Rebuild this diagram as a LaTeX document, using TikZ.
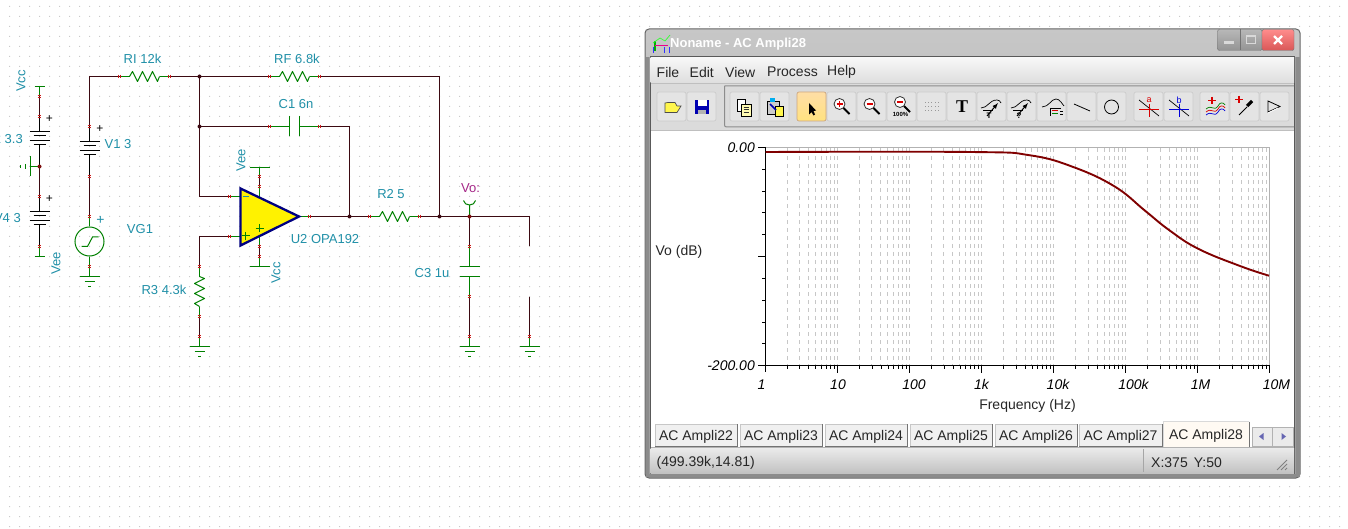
\documentclass[tikz,border=0pt]{standalone}
\usepackage{fontspec}
\setmainfont{Liberation Sans}
\newfontfamily\iconserif{Liberation Serif}
\usetikzlibrary{calc}
\definecolor{wirered}{HTML}{3C0A12}
\definecolor{leadgreen}{HTML}{008000}
\definecolor{pinred}{HTML}{D01818}
\definecolor{labelteal}{HTML}{2090A8}
\definecolor{griddot}{HTML}{CACACA}
\definecolor{curvered}{HTML}{800000}
\definecolor{btnface}{HTML}{E4E4E4}
\definecolor{btnline}{HTML}{CCCCCC}
\definecolor{opamp}{HTML}{000080}
\tikzset{
  wire/.style={draw=wirered,line width=1.1pt},
  lead/.style={draw=leadgreen,line width=1pt},
  blacklead/.style={draw=black,line width=1pt},
  pinmark/.style={draw=pinred,line width=.8pt},
  lbl/.style={text=labelteal,inner sep=0pt,font=\fontsize{13}{14}\selectfont},
  uitext/.style={text=black!85,inner sep=0pt,font=\fontsize{14}{16}\selectfont},
  axtext/.style={text=black,inner sep=0pt,font=\fontsize{14}{16}\selectfont\itshape},
  btn/.style={fill=btnface,draw=btnline,line width=.7pt,rounded corners=2pt},
  hpin/.pic={\draw[pinmark] (-1,-1.8)--(-1,1.8) (1,-1.8)--(1,1.8);},
  vpin/.pic={\draw[pinmark] (-1.8,-1)--(1.8,-1) (-1.8,1)--(1.8,1);},
  gnd/.pic={\draw[lead] (-10,0)--(10,0) (-5,5)--(5,5) (-1.5,10)--(1.5,10);},
  zigzag/.pic={\draw[lead,line join=round] (-15,0)--(-12,-5)--(-7,5)--(-2,-5)--(3,5)--(8,-5)--(13,5)--(15,0);},
  battery/.pic={\draw[blacklead] (-10,0)--(10,0) (-6,4.5)--(6,4.5) (-10,9)--(10,9) (-6,13)--(6,13);},
  jdot/.pic={\fill[wirered] (0,0) circle (2);},
  loupe/.pic={
    \draw[black!80,line width=.8pt,fill=white] (0,0) circle (5.5);
    \draw[black,line width=1.8pt] (4,4)--(10,10);
  }
}
\begin{document}
\begin{tikzpicture}[x=1pt,y=-1pt]
\useasboundingbox (0,0) rectangle (1348,529);
\fill[white] (0,0) rectangle (1348,529);
% sheet grid
\fill[griddot] \foreach \i in {0,...,133}{\foreach \j in {0,...,52}{(9+10*\i,6+10*\j) rectangle +(1,1)}};

% schematic
\begin{scope}[xshift=.5pt,yshift=-.5pt]
\foreach \n/\x/\y in {tl/89/76,pRIa/119/76,pRIb/169/76,jtop/199/76,pRFa/269/76,pRFb/319/76,tr/439/76,
  jfb/199/126,pCIa/269/126,pCIb/319/126,cr/349/126,jcap/349/216,jrf/439/216,
  inm/199/196,pinm/229/196,inp/199/236,pinp/229/236,
  pRTa/199/266,pRTb/199/316,pgT/199/336,gT/199/346,
  tip/300/216,pout/309/216,pRSa/369/216,pRSb/419/216,jvo/469/216,ocr/529/216,oend/529/246,
  ostart/529/296,pgO/529/336,gO/529/346,
  pCTa/469/246,pCTb/469/296,pgC/469/336,gC/469/346,plA/469/266,plB/469/276,
  pVa/89/126,pVb/89/176,pGa/89/216,pGb/89/266,gV/89/276,
  barcc/39/86,pBa/39/96,pBb/39/116,jmid/39/166,pDa/39/196,pDb/39/246,baree/39/256,
  barop/259/167,pUa/259/176,pUb/259/186,eU/259/197,barcv/259/266,pLb/259/256,pLa/259/246,eL/259/236}
  \coordinate (\n) at (\x,\y);

% wires
\draw[wire] (pVa)--(tl)--(pRIa) (pRIb)--(jtop)--(pRFa) (pRFb)--(tr)--(jrf);
\draw[wire] (jtop)--(jfb)--(inm)--(pinm) (jfb)--(pCIa) (pCIb)--(cr)--(jcap);
\draw[wire] (pout)--(pRSa) (pRSb)--(jvo)--(ocr)--(oend) (ostart)--(pgO);
\draw[wire] (pinp)--(inp)--(pRTa) (pRTb)--(pgT);
\draw[wire] (jvo)--(pCTa) (pCTb)--(pgC) (pVb)--(pGa);
\draw[wire] (pBa)--(pBb) (jmid)--(pDa) (pUa)--(pUb) (pLa)--(pLb);
% component leads
\draw[lead] (pRIa)--+(10,0) (pRIb)--+(-10,0) (pRFa)--+(10,0) (pRFb)--+(-10,0);
\draw[lead] (pRSa)--+(10,0) (pRSb)--+(-10,0) (pRTa)--+(0,10) (pRTb)--+(0,-10);
\draw[lead] (pCIa)--(289,126) (pCIb)--(299,126) (289,116)--(289,136) (299,116)--(299,136);
\draw[lead] (pCTa)--(plA) (pCTb)--(plB) (459,266)--(479,266) (459,276)--(479,276);
\draw[lead] (pgT)--(gT) (pgC)--(gC) (pgO)--(gO) (pGb)--(gV);
\draw[lead] (pinm)--(239,196) (pinp)--(239,236) (tip)--(pout);
\draw[lead] (249,167)--(269,167) (barop)--(pUa) (pUb)--(eU) (249,266)--(269,266) (barcv)--(pLb) (pLa)--(eL);
\draw[lead] (34,86)--(44,86) (barcc)--(pBa) (34,256)--(44,256) (baree)--(pDb);
\draw[lead] (jmid)--(30,166) (30,156)--(30,176);
\draw[lead] (25,163.5)--(25,168.5) (20,164.5)--(20,167.5);
\draw[lead] (jvo)--(469,205) (463,200) .. controls (464,206) and (474,206) .. (475,200);
% batteries
\draw[blacklead] (pBb)--(39,131) (39,144)--(jmid) (pDa)--(39,211) (39,224)--(pDb);
\draw[blacklead] (pVa)--(89,141) (89,154)--(pVb);
\pic at (39,131) {battery};
\pic at (39,211) {battery};
\pic at (89,141) {battery};
% generator
\node[draw=leadgreen,line width=1pt,circle,minimum size=29pt,inner sep=0pt] (VG) at (89,241) {};
\draw[lead] (pGa)--(VG.north) (VG.south)--(pGb);
\draw[lead] (81,246)--(87,246)--(92,236.5)--(98,236.5);
% passives
\pic at (144,76) {zigzag};
\pic at (294,76) {zigzag};
\pic at (394,216) {zigzag};
\pic[rotate=90] at (199,291) {zigzag};
% grounds
\pic at (gV) {gnd};
\pic at (gT) {gnd};
\pic at (gC) {gnd};
\pic at (gO) {gnd};
% op amp
\draw[draw=opamp,fill=yellow,line width=2.3pt,line join=miter] (240,188)--(298.5,216)--(240,245)--cycle;
\draw[draw=labelteal,line width=1pt] (242,196)--(248,196);
\draw[lead] (241,235.5)--(249,235.5) (245,231.5)--(245,239.5);
\draw[lead] (255,228)--(263,228) (259,224)--(259,232);
% pins
\foreach \p in {pRIa,pRIb,pRFa,pRFb,pCIa,pCIb,pRSa,pRSb,pinm,pinp,pout}
  \pic at (\p) {hpin};
\foreach \p in {pVa,pVb,pGa,pGb,pRTa,pRTb,pgT,pCTa,pCTb,pgC,pgO,pBa,pBb,pDa,pDb,pUa,pUb,pLa,pLb}
  \pic at (\p) {vpin};
\foreach \p in {jtop,jfb,jcap,jrf}
  \pic at (\p) {jdot};
\fill[pinred!60!black] (jvo) circle (2);
\fill[pinred!60!black] (jmid) circle (2);
\end{scope}

% schematic labels
\node[lbl] (lblRI) at (142.5,59) {RI 12k};
\node[lbl] (lblRF) at (297,59) {RF 6.8k};
\node[lbl] (lblCI) at (296,104) {C1 6n};
\node[lbl] (lblRS) at (391,194) {R2 5};
\node[lbl] (lblU) at (325,239.5) {U2 OPA192};
\node[lbl] (lblRT) at (164,290) {R3 4.3k};
\node[lbl] (lblCT) at (432,273) {C3 1u};
\node[lbl] (lblVI) at (118,144) {V1 3};
\node[lbl] (lblVG) at (140,229) {VG1};
\node[lbl,anchor=east] (lblVB) at (23,139) {V2 3.3};
\node[lbl,anchor=east] (lblVD) at (21,218) {V4 3};
\node[lbl,rotate=90] (lblcca) at (21,81) {Vcc};
\node[lbl,rotate=90] (lbleea) at (56,263) {Vee};
\node[lbl,rotate=90] (lbleeb) at (241,160) {Vee};
\node[lbl,rotate=90] (lblccb) at (276,273) {Vcc};
\node[lbl,text=black!20!magenta!75!blue] (lblVo) at (470.5,188.5) {Vo:};
\node[lbl,font=\fontsize{14}{14}\selectfont] (plusG) at (100.5,220) {+};
\node[inner sep=0pt,font=\fontsize{12}{14}\selectfont] (plusA) at (49.5,119) {+};
\node[inner sep=0pt,font=\fontsize{12}{14}\selectfont] (plusB) at (49.5,199) {+};
\node[inner sep=0pt,font=\fontsize{12}{14}\selectfont] (plusC) at (100,129) {+};

% window frame
\shade[top color=black!22,bottom color=black!40,draw=black!60,line width=1pt,rounded corners=4pt] (645,29) rectangle (1300,478);
\fill[black!45] (645.5,57) rectangle (1299.5,477);
\fill[black!38] (649,57) rectangle (1296,474);
\draw[black!65,line width=1pt] (650,57) rectangle (1294.5,473.5);
% title bar
\fill[green!70!black] (654,41) rectangle (656,51);
\draw[green!80,line width=.7pt] (653,43)--(660,38)--(665,41)--(670,35);
\draw[magenta,line width=1pt] (655,46)--(668,46);
\draw[blue!80,line width=.8pt] (653,47)--(653,53) (664,47)--(664,53) (669,47)--(669,53);
\node[text=white,inner sep=0pt,anchor=west,font=\fontsize{13}{16}\selectfont\bfseries] (title) at (670,44) {Noname - AC Ampli28};
% window buttons
\shade[top color=black!28,bottom color=black!42,draw=black!55,rounded corners=2pt] (1217.5,29.5) rectangle (1262,50.5);
\draw[black!55] (1240,29.5)--(1240,50.5);
\shade[top color=red!45!white,bottom color=red!60!white!85!black,draw=black!55,rounded corners=2pt] (1262,29.5) rectangle (1294,50.5);
\fill[white!85!black] (1224,41) rectangle (1234,44.5);
\draw[white!85!black,line width=1.2pt] (1246.5,36) rectangle (1255.5,43.5);
\draw[white,line width=2.4pt] (1274,36)--(1282,44) (1282,36)--(1274,44);
% menu bar
\shade[top color=black!3,bottom color=black!13] (650.5,58) rectangle (1294,83);
\draw[black!25] (651,83)--(1294,83);
\node[uitext,anchor=west] (mFile) at (656.5,72) {File};
\node[uitext,anchor=west] (mEdit) at (689.5,72) {Edit};
\node[uitext,anchor=west] (mView) at (725,72) {View};
\node[uitext,anchor=west] (mProc) at (767,72) {Process};
\node[uitext,anchor=west] (mHelp) at (827,72) {Help};
% toolbar
\fill[black!14] (650.5,84) rectangle (1294,130);
\draw[black!45,line width=1pt,rounded corners=2pt] (724.5,86)--(1294,86) (724.5,86)--(724.5,127)--(1294,127);
\draw[black!25] (651,130.5)--(1294,130.5);
\foreach \bx in {657,687,730,760,827,857,887,917,947,977,1007,1037,1067,1097,1134,1164,1200,1230,1260}
  \draw[btn] (\bx,92)  rectangle (\bx+29,121);
\shade[top color=yellow!25!orange!35!white,bottom color=yellow!55!orange!50!white,draw=orange!60!black!50,line width=.7pt,rounded corners=2pt] (797,92) rectangle (826,121);
% open, save
\draw[black!70,fill=yellow!70!white,line width=.7pt] (665,103)--(665,112.5)--(677,112.5)--(681,106)--(677,106)--(675,102.5)--(668,102.5)--cycle;
\fill[blue!70!black] (695,100) rectangle (709,114);
\fill[white] (697.5,100.5) rectangle (706.5,106.5);
\fill[black!30] (698,110) rectangle (706,114);
% copy, paste
\draw[black,fill=white,line width=.7pt] (737.5,99.5) rectangle (745,111);
\draw[black,fill=yellow!30,line width=.7pt] (741.5,104) rectangle (751,116);
\draw[black!80,line width=.6pt] (743.5,107)--(749,107) (743.5,109.5)--(749,109.5) (743.5,112)--(749,112);
\draw[black,fill=black!20,line width=.7pt] (767,101) rectangle (779,114);
\fill[cyan] (770,98) rectangle (775,102);
\draw[black,fill=yellow!70,line width=.7pt] (775,106) rectangle (783,116);
\draw[blue!70!black,line width=1.5pt] (770,104)--(776,110);
% pointer
\fill[black] (809,103)--(809,114.5)--(811.5,112)--(813.5,115.5)--(815,114.5)--(813.5,111)--(816,110.5)--cycle;
% zoom tools
\pic at (839.5,104) {loupe};
\draw[red!85!black,line width=1.1pt] (836.5,104)--(842.5,104) (839.5,101)--(839.5,107);
\pic at (869.5,104) {loupe};
\draw[red!85!black,line width=1.1pt] (866.5,104)--(872.5,104);
\pic at (900,102) {loupe};
\draw[red!85!black,line width=1.1pt] (897,102)--(903,102);
\node[inner sep=0pt,font=\fontsize{6}{6}\selectfont\bfseries] (zoomFull) at (900.5,114.5) {100\%};
% grid tool
\foreach \gi in {0,1,2,3,4}\foreach \gj in {0,1,2}
  \fill[black!40] (925+3.2*\gi,102.5+4*\gj) rectangle +(1,1);
\node[inner sep=0pt,font=\iconserif\fontsize{18}{18}\selectfont\bfseries] (toolT) at (962,107) {T};
% curve tools
\foreach \cx/\sym in {980/T,1010/?}{
  \draw[black,line width=.7pt] (\cx+1,108) .. controls (\cx+8,108) and (\cx+9,100) .. (\cx+17,100) .. controls (\cx+19,100) and (\cx+20,101) .. (\cx+21,103);
  \draw[black,line width=1pt,-latex] (\cx+7,116)--(\cx+18,103);
  \draw[black,line width=.8pt] (\cx+3,110.5)--(\cx+13,110.5);
  \node[inner sep=0pt,font=\fontsize{8}{8}\selectfont\bfseries] (curve\cx) at (\cx+9,115.5) {\sym};
}
\draw[black,line width=.7pt] (1042,107) .. controls (1049,107) and (1051,99) .. (1056,99) .. controls (1060,99) and (1062,104) .. (1064,106);
\draw[black,line width=.7pt] (1050,116)--(1050,108)--(1061,108);
\draw[red!85!black,line width=1pt] (1052,111)--(1058,111);
\draw[green!50!black,line width=1pt] (1052,114)--(1058,114);
\draw[black,line width=.7pt] (1060,111)--(1063,111) (1060,114)--(1063,114);
\draw[black,line width=.8pt] (1074,104)--(1090,111);
\draw[black,line width=.8pt] (1111.5,107) circle (7);
% cursors a and b
\foreach \cx/\col/\sym in {1149/red!85!black/a,1179/blue!85!black/b}{
  \draw[black,line width=.7pt] (\cx-10,100)--(\cx+10,116);
  \draw[\col,line width=.9pt] (\cx-10,109)--(\cx+10,109) (\cx,104)--(\cx,117);
  \node[inner sep=0pt,text=\col,font=\fontsize{9}{9}\selectfont] (cursor\sym) at (\cx,100) {\sym};
}
% add curve, dropper, flag
\draw[red!85!black,line width=1.8pt] (1208,100.5)--(1216,100.5) (1212,97)--(1212,104);
\draw[green!50!black,line width=.7pt] (1206,109) .. controls (1212,104) and (1214,112) .. (1218,106) .. controls (1220,102) and (1223,102) .. (1225,105);
\draw[red!85!black,line width=.7pt] (1206,112) .. controls (1212,107) and (1214,115) .. (1218,109) .. controls (1220,105) and (1223,105) .. (1225,108);
\draw[blue!85!black,line width=.7pt] (1206,115) .. controls (1212,110) and (1214,118) .. (1218,112) .. controls (1220,108) and (1223,108) .. (1225,111);
\draw[red!85!black,line width=1.8pt] (1235,99.5)--(1243,99.5) (1239,96)--(1239,103);
\draw[black,line width=1pt] (1239,115)--(1247,107);
\draw[black,line width=3.2pt] (1247,106)--(1252,101);
\draw[black,line width=.8pt] (1268,101)--(1268,112)--(1280,106.5)--cycle;
\draw[white,line width=.8pt] (1268,113)--(1278,108);

% plot area
\fill[white] (651,131) rectangle (1293.5,447);
\foreach \d in {0,...,6}\foreach \m in {2,...,10}{
  \pgfmathsetmacro\gx{765.5+72.04*(\d+log10(\m))}
  \draw[black!22,line width=1pt,dash pattern=on 4pt off 4pt] (\gx,148)--(\gx,365);
  \pgfmathsetmacro\tl{ifthenelse(\m==10,7.5,3.5)}
  \draw[black,line width=.8pt] (\gx,365.5)--+(0,\tl);
}
\draw[black!30,line width=1pt] (765.5,147.5)--(1269.5,147.5)--(1269.5,365);
\foreach \ty in {169.3,191.1,212.9,234.7,278.3,300.1,321.9,343.7}
  \draw[black,line width=.8pt] (762,\ty)--(765.5,\ty);
\foreach \ty in {147.5,256.5,365.5}
  \draw[black,line width=.9pt] (758,\ty)--(765.5,\ty);
\draw[black,line width=1pt] (765.5,147)--(765.5,365.5)--(1269.5,365.5);
\draw[black,line width=1pt] (765.5,365.5)--(765.5,372);
\draw[curvered,line width=1.9pt,line join=round] plot[smooth,tension=.7] coordinates {(765.5,152) (971,152) (1030,155.3) (1074,167.3) (1115,186.7) (1145,210.7) (1169,230) (1198,248.7) (1240,266) (1269,275.7)};
\node[axtext,anchor=east] (ytop) at (755,148) {0.00};
\node[axtext,anchor=east] (ybot) at (755,366) {-200.00};
\node[uitext] (ylab) at (679,251.5) {Vo (dB)};
\foreach \tx/\tn/\lb in {761.5/a/1,838/b/10,914/c/100,981.5/d/1k,1058/e/10k,1133.5/f/100k,1200.5/g/1M,1276.5/h/10M}
  \node[axtext] (xt\tn) at (\tx,384.5) {\lb};
\node[uitext] (xlab) at (1027.5,405.5) {Frequency (Hz)};
% tabs
\draw[black!30] (651,447.5)--(1293.5,447.5);
\foreach \tx/\tw/\tt in {655/82/22,740/82/23,825/82/24,910/82/25,995/82/26,1079/83/27}{
  \fill[black!6] (\tx,424) rectangle (\tx+\tw,446);
  \draw[black!55,line width=1pt] (\tx+\tw,424)--(\tx+\tw,446)--(\tx,446);
  \draw[black!22,line width=.7pt] (\tx,446)--(\tx,424)--(\tx+\tw,424);
  \node[uitext] (tab\tt) at (\tx+\tw/2,437) {AC Ampli\tt};
}
\fill[yellow!5!orange!4!white] (1163,421.5) rectangle (1249,447);
\draw[black!55,line width=1pt] (1249,421.5)--(1249,447);
\draw[black!15,line width=.7pt] (1163,447)--(1163,421.5)--(1249,421.5);
\node[uitext] (tab28) at (1206,436) {AC Ampli28};
\draw[black!30,fill=black!8,line width=.8pt] (1252.5,427) rectangle (1272,446);
\draw[black!30,fill=black!8,line width=.8pt] (1272,427) rectangle (1293,446);
\fill[blue!50!black!60] (1259,436.5)--(1263.5,433)--(1263.5,440)--cycle;
\fill[blue!50!black!60] (1286,436.5)--(1281.5,433)--(1281.5,440)--cycle;
% status bar
\shade[top color=black!8,bottom color=black!24] (650.5,448) rectangle (1294,473);
\draw[black!35] (1143.5,449)--(1143.5,472);
\node[uitext,anchor=west] (stPos) at (656.5,463) {(499.39k,14.81)};
\node[uitext,anchor=west] (stXY) at (1151,463) {X:375\hspace{6pt}Y:50};
\draw[black!50,line width=.8pt] (1277,470)--(1287,460) (1281,470)--(1287,464) (1285,470)--(1287,468);
\end{tikzpicture}
\end{document}
